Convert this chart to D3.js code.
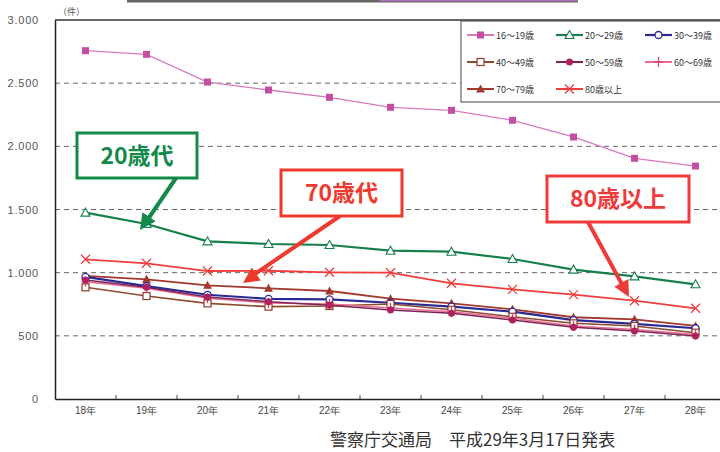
<!DOCTYPE html>
<html>
<head>
<meta charset="utf-8">
<script src="https://cdn.jsdelivr.net/npm/d3@7"></script>
<style>
  body { margin: 0; background: #fff; }
  svg { font-family: "Noto Sans CJK JP", "Noto Sans", sans-serif; }
</style>
</head>
<body>
<div id="chart"></div>
<script>
// Data (件), 平成18年〜28年
var years = ["18年", "19年", "20年", "21年", "22年", "23年", "24年", "25年", "26年", "27年", "28年"];
var age16_19 = [2757, 2728, 2509, 2446, 2388, 2309, 2285, 2206, 2074, 1905, 1844];
var age20_29 = [1475, 1385, 1248, 1227, 1219, 1174, 1166, 1108, 1024, 971, 908];
var age30_39 = [966, 894, 825, 793, 789, 762, 731, 691, 625, 594, 560];
var age40_49 = [884, 815, 757, 731, 736, 752, 706, 651, 599, 578, 525];
var age50_59 = [942, 884, 807, 770, 742, 705, 678, 625, 567, 538, 499];
var age60_69 = [929, 876, 797, 760, 751, 721, 690, 640, 578, 550, 510];
var age70_79 = [974, 947, 900, 876, 855, 794, 757, 710, 647, 631, 578];
var age80up  = [1106, 1074, 1013, 1015, 1003, 1000, 916, 868, 826, 778, 718];
var yTicks = [0, 500, 1000, 1500, 2000, 2500, 3000];
var yTickLabels = ["0", "500", "1.000", "1.500", "2.000", "2.500", "3.000"];

var series = [
    { name: "16～19歳", values: age16_19, color: "#d778bd", mcolor: "#c24fa2", width: 1.3, marker: "square" },
    { name: "20～29歳", values: age20_29, color: "#17804a", mcolor: "#17804a", width: 2.2, marker: "triangleOpen" },
    { name: "30～39歳", values: age30_39, color: "#2b2a92", mcolor: "#2b2a92", width: 2.2, marker: "circleOpen" },
    { name: "40～49歳", values: age40_49, color: "#8e4a2c", mcolor: "#8e3a2a", width: 1.6, marker: "squareOpen" },
    { name: "50～59歳", values: age50_59, color: "#7a2456", mcolor: "#b0205e", width: 1.5, marker: "dot" },
    { name: "60～69歳", values: age60_69, color: "#ea6c93", mcolor: "#e0406e", width: 1.5, marker: "plus" },
    { name: "70～79歳", values: age70_79, color: "#a3382c", mcolor: "#a3382c", width: 1.8, marker: "triangle" },
    { name: "80歳以上", values: age80up, color: "#f03c3c", mcolor: "#f03c3c", width: 1.8, marker: "cross" }
];
// drawing order (bottom to top)
var drawOrder = [0, 1, 7, 6, 2, 3, 5, 4];

var width = 720, height = 452;
var plotLeft = 55, plotTop = 20, plotBottom = 399;

var svg = d3.select("#chart").append("svg")
    .attr("width", width)
    .attr("height", height);

var x = d3.scaleBand()
    .domain(years)
    .range([plotLeft, plotLeft + 61 * years.length])
    .padding(0);
var y = d3.scaleLinear()
    .domain([0, 3000])
    .range([plotBottom, plotTop]);

// Bottom edge of the cut-off title box
svg.append("line")
    .attr("x1", 127).attr("x2", 578).attr("y1", 1).attr("y2", 1)
    .attr("stroke", "#666").attr("stroke-width", 3);
svg.append("line")
    .attr("x1", 380).attr("x2", 578).attr("y1", 0.5).attr("y2", 0.5)
    .attr("stroke", "#b070c0").attr("stroke-width", 1.5);

// Grid lines
svg.append("g")
    .selectAll("line")
    .data(yTicks.filter(function (d) { return d > 0 && d < 3000; }))
    .enter().append("line")
    .attr("x1", plotLeft).attr("x2", width)
    .attr("y1", function (d) { return y(d); })
    .attr("y2", function (d) { return y(d); })
    .attr("stroke", "#666")
    .attr("stroke-width", 1)
    .attr("stroke-dasharray", "5,4");

// Frame top
svg.append("line")
    .attr("x1", plotLeft).attr("x2", width)
    .attr("y1", y(3000)).attr("y2", y(3000))
    .attr("stroke", "#333").attr("stroke-width", 1.5);

// Y axis
var yAxis = svg.append("g")
    .attr("transform", "translate(" + plotLeft + ",0)")
    .call(d3.axisLeft(y)
        .tickValues(yTicks)
        .tickSize(0)
        .tickPadding(16)
        .tickFormat(function (d, i) { return yTickLabels[i]; }));
yAxis.select(".domain").attr("stroke", "#222").attr("stroke-width", 1.5);
yAxis.selectAll("text")
    .style("font-size", "11px")
    .style("letter-spacing", "0.8px")
    .attr("fill", "#555");

// X axis
var xAxis = svg.append("g")
    .attr("transform", "translate(0," + plotBottom + ")")
    .call(d3.axisBottom(x).tickSize(0).tickPadding(8));
xAxis.select(".domain").attr("stroke", "#222").attr("stroke-width", 1.5);
xAxis.selectAll("text")
    .style("font-size", "10px")
    .attr("fill", "#444");
// small ticks at band boundaries
xAxis.selectAll(".btick")
    .data(years.slice(1))
    .enter().append("line")
    .attr("x1", function (d) { return x(d); })
    .attr("x2", function (d) { return x(d); })
    .attr("y1", 0).attr("y2", -4)
    .attr("stroke", "#444");

// Unit label
svg.append("text")
    .attr("x", 58).attr("y", 15)
    .style("font-size", "9px")
    .attr("fill", "#555")
    .text("（件）");

function drawMarker(g, type, color, cx, cy) {
    if (type === "square") {
        g.append("rect").attr("x", cx - 3.5).attr("y", cy - 3.5).attr("width", 7).attr("height", 7).attr("fill", color);
    } else if (type === "squareOpen") {
        g.append("rect").attr("x", cx - 3.5).attr("y", cy - 3.5).attr("width", 7).attr("height", 7)
            .attr("fill", "#fff").attr("stroke", color).attr("stroke-width", 1.2);
    } else if (type === "triangleOpen") {
        g.append("path").attr("d", "M" + cx + "," + (cy - 4.5) + "L" + (cx + 4.5) + "," + (cy + 3.5) + "L" + (cx - 4.5) + "," + (cy + 3.5) + "Z")
            .attr("fill", "#fff").attr("stroke", color).attr("stroke-width", 1.1);
    } else if (type === "triangle") {
        g.append("path").attr("d", "M" + cx + "," + (cy - 4.5) + "L" + (cx + 4.5) + "," + (cy + 3.5) + "L" + (cx - 4.5) + "," + (cy + 3.5) + "Z")
            .attr("fill", color);
    } else if (type === "circleOpen") {
        g.append("circle").attr("cx", cx).attr("cy", cy).attr("r", 3.5)
            .attr("fill", "#fff").attr("stroke", color).attr("stroke-width", 1.3);
    } else if (type === "dot") {
        g.append("circle").attr("cx", cx).attr("cy", cy).attr("r", 3.5).attr("fill", color);
    } else if (type === "plus") {
        g.append("path").attr("d", "M" + (cx - 4) + "," + cy + "H" + (cx + 4) + "M" + cx + "," + (cy - 5) + "V" + (cy + 5))
            .attr("stroke", color).attr("stroke-width", 1.3);
    } else if (type === "cross") {
        g.append("path").attr("d", "M" + (cx - 4.5) + "," + (cy - 4.5) + "L" + (cx + 4.5) + "," + (cy + 4.5) + "M" + (cx + 4.5) + "," + (cy - 4.5) + "L" + (cx - 4.5) + "," + (cy + 4.5))
            .attr("stroke", color).attr("stroke-width", 1.3);
    }
}

var line = d3.line()
    .x(function (d, i) { return x(years[i]) + x.bandwidth() / 2; })
    .y(function (d) { return y(d); });

drawOrder.forEach(function (k) {
    var s = series[k];
    var g = svg.append("g").attr("class", "series");
    g.append("path")
        .datum(s.values)
        .attr("d", line)
        .attr("fill", "none")
        .attr("stroke", s.color)
        .attr("stroke-width", s.width);
    s.values.forEach(function (v, i) {
        drawMarker(g, s.marker, s.mcolor, x(years[i]) + x.bandwidth() / 2, y(v));
    });
});

// Legend
var legend = svg.append("g");
legend.append("rect")
    .attr("x", 461).attr("y", 21)
    .attr("width", 270).attr("height", 81)
    .attr("fill", "#fff")
    .attr("stroke", "#444")
    .attr("stroke-width", 1);
series.forEach(function (s, i) {
    var col = i % 3, row = Math.floor(i / 3);
    var lx = 467 + col * 89, ly = 35 + row * 27;
    var lg = legend.append("g");
    lg.append("line")
        .attr("x1", lx).attr("x2", lx + 27)
        .attr("y1", ly).attr("y2", ly)
        .attr("stroke", s.color)
        .attr("stroke-width", Math.max(2, s.width));
    drawMarker(lg, s.marker, s.mcolor, lx + 13.5, ly);
    lg.append("text")
        .attr("x", lx + 29).attr("y", ly + 3.5)
        .style("font-size", "9px")
        .attr("fill", "#333")
        .text(s.name);
});

// Annotation callouts
function callout(opt) {
    var g = svg.append("g");
    g.append("line")
        .attr("x1", opt.from[0]).attr("y1", opt.from[1])
        .attr("x2", opt.to[0]).attr("y2", opt.to[1])
        .attr("stroke", opt.color)
        .attr("stroke-width", 4);
    var ang = Math.atan2(opt.to[1] - opt.from[1], opt.to[0] - opt.from[0]);
    var hl = 16, hw = 8;
    var bx = opt.tip[0] - hl * Math.cos(ang), by = opt.tip[1] - hl * Math.sin(ang);
    g.append("path")
        .attr("d", "M" + opt.tip[0] + "," + opt.tip[1] +
            "L" + (bx + hw * Math.sin(ang)) + "," + (by - hw * Math.cos(ang)) +
            "L" + (bx - hw * Math.sin(ang)) + "," + (by + hw * Math.cos(ang)) + "Z")
        .attr("fill", opt.color);
    g.append("rect")
        .attr("x", opt.box[0]).attr("y", opt.box[1])
        .attr("width", opt.box[2]).attr("height", opt.box[3])
        .attr("fill", "#fff")
        .attr("stroke", opt.color)
        .attr("stroke-width", 3);
    g.append("text")
        .attr("x", opt.box[0] + opt.box[2] / 2)
        .attr("y", opt.box[1] + opt.box[3] / 2 + 8)
        .attr("text-anchor", "middle")
        .style("font-size", "23px")
        .style("font-weight", "bold")
        .attr("fill", opt.color)
        .text(opt.label);
}

callout({ label: "20歳代", color: "#138a4a", box: [77, 133, 120, 45], from: [176, 178], to: [146, 222], tip: [140, 230] });
callout({ label: "70歳代", color: "#ee3a2e", box: [281, 170, 121, 46], from: [340, 216], to: [252, 276], tip: [243, 283] });
callout({ label: "80歳以上", color: "#ee3a3a", box: [547, 176, 142, 46], from: [588, 222], to: [624, 288], tip: [629, 297] });

// Source
svg.append("text")
    .attr("x", 330).attr("y", 446)
    .style("font-size", "17px")
    .attr("fill", "#333")
    .text("警察庁交通局　平成29年3月17日発表");
</script>
</body>
</html>
